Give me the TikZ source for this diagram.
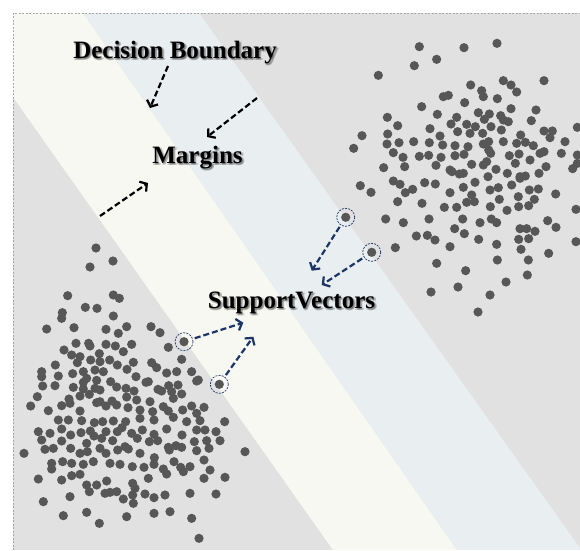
\documentclass[tikz,border=0pt]{standalone}
\usepackage{fontspec}
\setmainfont{Liberation Serif}
\usetikzlibrary{arrows.meta}
\definecolor{bggray}{HTML}{E1E1E1}
\definecolor{creamc}{HTML}{F8F8F3}
\definecolor{bluec}{HTML}{E9EEF0}
\definecolor{dotc}{HTML}{575757}
\definecolor{navyc}{HTML}{1C3566}
\definecolor{framec}{HTML}{A8A8A8}
\begin{document}
\begin{tikzpicture}[x=1pt,y=-1pt,
  dot/.style={fill=dotc},
  lbl/.style={font=\bfseries\fontsize{25}{28}\selectfont, inner sep=0pt, anchor=base},
  shadowlbl/.style={lbl, text=black, text opacity=0.16},
  blackarrow/.style={draw=black, line width=2.2pt, dash pattern=on 6pt off 3pt, -{Straight Barb[length=5pt,width=12pt]}},
  bluearrow/.style={draw=navyc, line width=2.2pt, dash pattern=on 6pt off 3pt, -{Straight Barb[length=5pt,width=12pt]}, shorten <=2pt},
  svnode/.style={circle, draw=navyc, line width=0.7pt, dash pattern=on 2pt off 1.2pt, minimum size=18pt, inner sep=0pt,
    path picture={\fill[dotc] (path picture bounding box.center) circle[radius=4.6pt];}},
]
\useasboundingbox (0,0) rectangle (580,550);
\fill[white] (0,0) rectangle (580,550);
% background and bands
\fill[bggray] (13,13) rectangle (580,550);
\fill[creamc] (13,13) -- (83,13) -- (457,550) -- (333,550) -- (13,97) -- cycle;
\fill[bluec] (83,13) -- (199,13) -- (580,548) -- (580,550) -- (457,550) -- cycle;
\draw[framec, line width=0.6pt, dash pattern=on 2pt off 1.5pt] (13,550) -- (13,13) -- (580,13);

% upper-right cluster
\begin{scope}[shift={(290,0)}, x=0.33333pt, y=-0.33333pt]
\foreach \a/\b in {388/140, 522/143, 621/130, 373/197, 440/178, 265/226, 542/255, 640/242, 663/255, 680/276, 762/242, 575/272, 580/290, 622/296, 460/290, 475/286, 395/320, 524/308, 663/326, 738/330, 292/352, 442/343, 500/352, 565/338, 598/342, 632/347, 640/360, 583/358, 323/377, 483/372, 530/373, 556/380, 603/380, 655/365, 724/362, 862/382, 216/407, 293/402, 420/386, 450/408, 503/395, 540/400, 578/400, 634/390, 692/405, 762/393, 787/393, 780/413, 191/445, 291/432, 327/428, 371/425, 418/428, 458/435, 495/437, 534/440, 580/432, 596/425, 640/425, 680/430, 706/427, 730/437, 825/425, 310/458, 339/472, 388/469, 416/466, 453/472, 495/467, 522/463, 596/450, 602/460, 658/467, 687/462, 750/460, 762/455, 814/460, 862/465, 281/503, 344/500, 438/496, 480/510, 520/520, 545/493, 580/495, 590/485, 618/508, 676/490, 720/480, 768/500, 848/506, 862/490, 486/515, 508/522, 594/530, 652/520, 690/530, 706/528, 747/520, 310/543, 330/553, 404/548, 436/552, 520/562, 555/547, 600/570, 625/563, 665/555, 690/535, 718/570, 211/557, 243/577, 346/578, 368/568, 480/578, 545/585, 628/598, 685/590, 733/598, 745/567, 797/582, 323/605, 396/610, 463/622, 500/622, 530/607, 553/605, 601/620, 651/631, 686/620, 716/617, 858/628, 287/657, 340/668, 417/657, 518/657, 570/668, 604/657, 620/668, 773/662, 798/682, 494/686, 523/701, 690/686, 710/686, 735/694, 379/708, 412/706, 435/720, 480/740, 566/718, 620/733, 686/718, 716/716, 858/725, 316/743, 693/748, 776/760, 440/790, 622/780, 715/780, 527/812, 712/825, 423/876, 504/861, 600/885, 648/846, 564/936}
  \fill[dot] (\a,\b) circle[radius=4.6pt];
\end{scope}

% lower-left cluster
\begin{scope}[shift={(0,275)}, x=0.33333pt, y=-0.33333pt]
\foreach \a/\b in {288/-81, 339/-42, 270/-24, 203/62, 340/60, 358/70, 256/97, 291/100, 187/113, 185/130, 340/123, 140/162, 222/158, 318/163, 355/175, 380/155, 453/155, 480/173, 228/205, 266/205, 270/213, 318/208, 346/213, 395/208, 505/217, 192/225, 215/240, 240/245, 298/236, 370/230, 166/270, 232/263, 272/255, 300/260, 329/255, 352/270, 400/262, 455/263, 470/278, 545/253, 125/290, 218/296, 250/290, 285/285, 310/290, 381/283, 408/305, 500/294, 530/290, 575/290, 125/305, 175/303, 260/310, 290/316, 332/320, 445/320, 595/315, 128/333, 165/332, 220/337, 250/322, 250/342, 285/340, 300/345, 350/336, 378/340, 402/348, 438/322, 474/343, 506/332, 534/330, 545/357, 590/318, 112/365, 207/372, 240/363, 268/358, 300/380, 336/378, 380/366, 410/375, 450/380, 485/348, 515/350, 520/370, 92/393, 145/407, 185/392, 210/385, 240/408, 290/383, 318/393, 350/390, 384/398, 420/405, 458/410, 490/395, 505/408, 548/405, 575/393, 612/397, 175/435, 205/435, 245/437, 283/443, 308/440, 340/438, 377/440, 420/430, 462/435, 520/427, 560/440, 590/415, 600/437, 674/440, 115/470, 150/475, 185/462, 212/480, 243/473, 271/468, 282/483, 318/470, 352/470, 366/458, 395/475, 427/465, 462/478, 500/462, 546/480, 590/465, 615/465, 648/470, 125/495, 185/498, 260/505, 305/490, 338/497, 375/515, 412/490, 448/500, 473/497, 505/517, 528/512, 583/500, 620/497, 660/497, 72/535, 135/523, 160/520, 212/520, 240/535, 262/530, 300/520, 318/535, 353/525, 385/522, 420/535, 463/548, 508/525, 545/517, 590/527, 627/520, 735/530, 155/565, 155/582, 188/560, 215/565, 250/568, 280/560, 330/565, 360/568, 397/575, 432/577, 462/568, 490/582, 522/560, 542/577, 570/575, 612/555, 630/585, 115/612, 185/615, 215/602, 240/598, 260/630, 290/630, 320/618, 330/652, 398/625, 405/640, 445/610, 500/597, 550/590, 612/610, 675/607, 130/680, 210/665, 268/650, 315/655, 350/650, 370/672, 398/660, 400/685, 435/657, 462/668, 495/660, 570/655, 648/657, 190/722, 260/712, 298/745, 380/725, 462/715, 510/710, 575/730, 597/790}
  \fill[dot] (\a,\b) circle[radius=4.6pt];
\end{scope}

% support vectors
\node[svnode] (sv1) at (345.7,217.3) {};
\node[svnode] (sv2) at (371.7,252.3) {};
\node[svnode] (sv3) at (184,341.7) {};
\node[svnode] (sv4) at (219.3,384.3) {};

% labels with soft shadow
\foreach \dx/\dy [count=\k] in {1/1.5, 2/2.5, 0.5/2.5, 2.5/1.5}{
  \node[shadowlbl, xshift=\dx pt, yshift=-\dy pt] (dbsh\k) at (175,58) {Decision Boundary};
  \node[shadowlbl, xshift=\dx pt, yshift=-\dy pt] (mgsh\k) at (197.5,163) {Margins};
  \node[shadowlbl, xshift=\dx pt, yshift=-\dy pt] (svsh\k) at (291.5,308) {SupportVectors};
}
\node[lbl] (db) at (175,58) {Decision Boundary};
\node[lbl] (mg) at (197.5,163) {Margins};
\node[lbl] (svl) at (291.5,308) {SupportVectors};

% arrow endpoints
\coordinate (a1s) at (168,66);
\coordinate (a1e) at (150,108);
\coordinate (a2s) at (257,98);
\coordinate (a2e) at (207,137);
\coordinate (a3s) at (100,216);
\coordinate (a3e) at (148,183);
\coordinate (b1e) at (311.7,270.7);
\coordinate (b2e) at (321.7,285);
\coordinate (b3e) at (243.3,322.7);
\coordinate (b4e) at (253.3,336.7);

\draw[blackarrow] (a1s) -- (a1e);
\draw[blackarrow] (a2s) -- (a2e);
\draw[blackarrow] (a3s) -- (a3e);
\draw[bluearrow] (sv1) -- (b1e);
\draw[bluearrow] (sv2) -- (b2e);
\draw[bluearrow] (sv3) -- (b3e);
\draw[bluearrow] (sv4) -- (b4e);
\end{tikzpicture}
\end{document}
